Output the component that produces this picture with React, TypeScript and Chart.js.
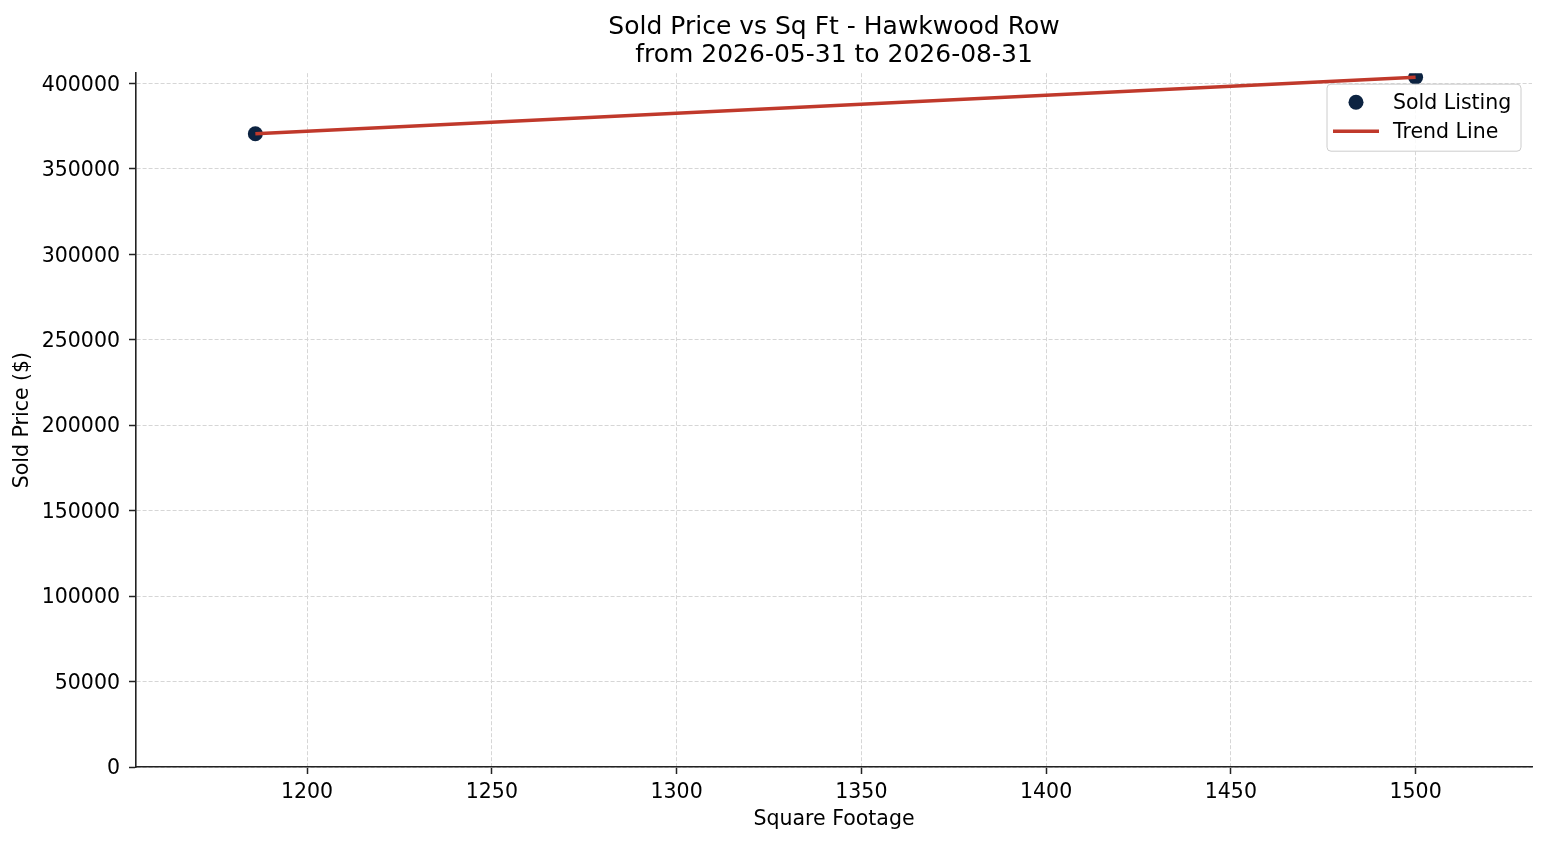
import { useEffect, useRef } from 'react';
import { Chart, registerables } from 'chart.js';

Chart.register(...registerables);

const titleLines = ['Sold Price vs Sq Ft - Hawkwood Row', 'from 2026-05-31 to 2026-08-31'];
const squareFeet = [1186, 1500];
const soldPrices = [370500, 403500];
const trendSqFt = [1186, 1500];
const trendPrices = [370500, 403500];
const xTickValues = [1200, 1250, 1300, 1350, 1400, 1450, 1500];
const yTickValues = [0, 50000, 100000, 150000, 200000, 250000, 300000, 350000, 400000];

const FONT = '"DejaVu Sans", sans-serif';
const NAVY = '#0c2341';
const RED = '#c0392b';
const AXIS = '#222222';
const GRID = '#d6d6d6';

// legend in a framed box, top-right inside the plot (matplotlib style)
const boxLegend = {
  id: 'boxLegend',
  afterDraw(chart: any) {
    const { ctx, chartArea } = chart;
    const w = 194;
    const h = 67;
    const x = chartArea.right - 11 - w;
    const y = chartArea.top + 11;
    ctx.save();
    ctx.beginPath();
    ctx.roundRect(x, y, w, h, 4);
    ctx.fillStyle = 'rgba(255,255,255,0.85)';
    ctx.fill();
    ctx.lineWidth = 1;
    ctx.strokeStyle = '#cccccc';
    ctx.stroke();

    ctx.font = `20.5px ${FONT}`;
    ctx.textBaseline = 'middle';
    chart.data.datasets.slice().reverse().forEach((ds: any, i: number) => {
      const cy = y + 18 + i * 29;
      if (ds.showLine) {
        ctx.beginPath();
        ctx.moveTo(x + 6, cy);
        ctx.lineTo(x + 52, cy);
        ctx.strokeStyle = ds.borderColor;
        ctx.lineWidth = ds.borderWidth;
        ctx.stroke();
      } else {
        ctx.beginPath();
        ctx.arc(x + 29, cy, 7.5, 0, Math.PI * 2);
        ctx.fillStyle = ds.backgroundColor;
        ctx.fill();
      }
      ctx.fillStyle = '#000';
      ctx.fillText(ds.label, x + 66, cy + 1);
    });
    ctx.restore();
  },
};

const App = () => {
  const chartRef = useRef<HTMLCanvasElement | null>(null);

  useEffect(() => {
    if (!chartRef.current) return;
    const ctx = chartRef.current.getContext('2d');
    if (!ctx) return;

    Chart.defaults.font.family = FONT;
    Chart.defaults.color = '#000';

    const myChart = new Chart(ctx, {
      type: 'scatter',
      data: {
        datasets: [
          {
            label: 'Trend Line',
            data: trendSqFt.map((x, i) => ({ x, y: trendPrices[i] })),
            showLine: true,
            borderColor: RED,
            backgroundColor: RED,
            borderWidth: 3.5,
            pointRadius: 0,
            order: 0,
          },
          {
            label: 'Sold Listing',
            data: squareFeet.map((x, i) => ({ x, y: soldPrices[i] })),
            backgroundColor: NAVY,
            borderColor: NAVY,
            pointRadius: 7.5,
            pointBorderWidth: 0,
            order: 1,
          },
        ],
      },
      options: {
        animation: false,
        responsive: true,
        maintainAspectRatio: false,
        layout: { padding: { left: 0, right: 15, top: 0, bottom: 0 } },
        plugins: {
          legend: { display: false },
          tooltip: { enabled: false },
          title: {
            display: true,
            fullSize: false,
            text: titleLines,
            color: '#000',
            font: { size: 25, weight: 'normal', lineHeight: 1.144 },
            padding: { top: 13, bottom: 3 },
          },
        },
        scales: {
          x: {
            type: 'linear',
            min: 1153.7,
            max: 1531.5,
            afterBuildTicks: (scale: any) => {
              scale.ticks = xTickValues.map((value) => ({ value }));
            },
            afterFit: (scale: any) => {
              scale.height = 78;
            },
            ticks: { font: { size: 20.5 }, padding: 6, maxRotation: 0, callback: (v: any) => String(v) },
            grid: {
              color: GRID,
              lineWidth: 1,
              tickLength: 7,
              tickColor: AXIS,
              tickWidth: 1.5,
              tickBorderDash: [],
            },
            border: { display: true, color: AXIS, width: 1.6, dash: [4, 2] },
            title: {
              display: true,
              text: 'Square Footage',
              font: { size: 20.5 },
              padding: { top: 0, bottom: 13.5 },
            },
          },
          y: {
            type: 'linear',
            min: 0,
            max: 405900,
            afterBuildTicks: (scale: any) => {
              scale.ticks = yTickValues.map((value) => ({ value }));
            },
            afterFit: (scale: any) => {
              scale.width = 136;
            },
            ticks: { font: { size: 20.5 }, padding: 9, labelOffset: 2, callback: (v: any) => String(v) },
            grid: {
              color: GRID,
              lineWidth: 1,
              tickLength: 7,
              tickColor: AXIS,
              tickWidth: 1.5,
              tickBorderDash: [],
            },
            border: { display: true, color: AXIS, width: 1.6, dash: [4, 2] },
            title: {
              display: true,
              text: 'Sold Price ($)',
              font: { size: 20.5 },
              padding: { top: 10.5, bottom: 0 },
            },
          },
        },
      },
      plugins: [boxLegend],
    });

    return () => myChart.destroy();
  }, []);

  return (
    <div style={{ position: 'absolute', left: 0, top: 0, width: 1547, height: 845, background: '#fff' }}>
      <canvas ref={chartRef} />
    </div>
  );
};

export default App;
